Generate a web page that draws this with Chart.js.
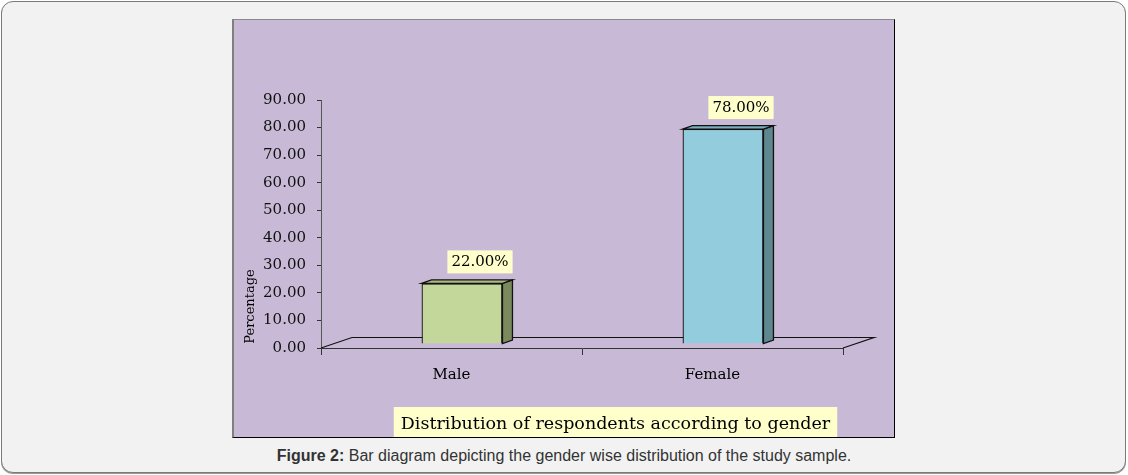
<!DOCTYPE html>
<html>
<head>
<meta charset="utf-8">
<script src="https://cdn.jsdelivr.net/npm/chart.js@4/dist/chart.umd.min.js"></script>
<style>
  html, body { margin: 0; padding: 0; background: #fff; }
  #frame {
    position: absolute; left: 1px; top: 1px; width: 1123px; height: 470px;
    border: 1px solid #7a7a7a; border-radius: 12px; background: #f2f2f2;
    box-shadow: 0 1px 0 #9a9a9a;
  }
  #panel {
    position: absolute; left: 232px; top: 19px; width: 660px; height: 417px;
    background: #c8bad6;
    border-left: 2px solid #7f7f7f; border-top: 1px solid #8a8a8a;
    border-right: 1px solid #000; border-bottom: 1px solid #000;
  }
  #caption {
    position: absolute; left: 0; width: 1128px; top: 447px; text-align: center;
    font-family: "Liberation Sans", Arial, sans-serif; font-size: 16px; color: #333;
  }
</style>
</head>
<body>
<div id="frame"></div>
<div id="panel"><canvas id="chart" width="660" height="417"></canvas></div>
<div id="caption"><b>Figure 2:</b> Bar diagram depicting the gender wise distribution of the study sample.</div>
<script>
// data
const categories = ["Male", "Female"];
const percentages = [22, 78];
const yMax = 90;
const yStep = 10;
const axisTitle = "Percentage";
const chartTitle = "Distribution of respondents according to gender";

// colours for front / side / top faces
const frontColors = ["#c4d79b", "#93cddd"];
const sideColors = ["#7b8a5c", "#5e8790"];
const topColors = ["#a9bb82", "#79aebc"];

const serif = "'DejaVu Serif', serif";
const DX = 10.5, DY = -4;      // bar shift into the floor
const DEPTH = 10, RISE = 3.5;  // bar 3d depth

const threeD = {
  id: "threeD",
  beforeDatasetsDraw(chart) {
    const { ctx, chartArea: a } = chart;
    // floor back edge
    ctx.save();
    ctx.strokeStyle = "#111";
    ctx.lineWidth = 1.2;
    ctx.beginPath();
    ctx.moveTo(a.left, a.bottom);
    ctx.lineTo(a.left + 31, a.bottom - 10.5);
    ctx.lineTo(a.right + 31, a.bottom - 10.5);
    ctx.lineTo(a.right, a.bottom);
    ctx.stroke();
    ctx.restore();
    ctx.save();
    ctx.translate(DX, DY);
  },
  afterDatasetsDraw(chart) {
    const { ctx } = chart;
    const meta = chart.getDatasetMeta(0);
    meta.data.forEach((bar, i) => {
      const l = bar.x - bar.width / 2, r = bar.x + bar.width / 2;
      const t = bar.y, b = bar.base;
      ctx.lineWidth = 1.3;
      ctx.strokeStyle = "#111";
      // side
      ctx.fillStyle = sideColors[i];
      ctx.beginPath();
      ctx.moveTo(r, t); ctx.lineTo(r + DEPTH, t - RISE);
      ctx.lineTo(r + DEPTH, b - RISE); ctx.lineTo(r, b);
      ctx.closePath(); ctx.fill(); ctx.stroke();
      // top
      ctx.fillStyle = topColors[i];
      ctx.beginPath();
      ctx.moveTo(l, t); ctx.lineTo(l + DEPTH, t - RISE);
      ctx.lineTo(r + DEPTH, t - RISE); ctx.lineTo(r, t);
      ctx.closePath(); ctx.fill(); ctx.stroke();
      // value label
      const txt = percentages[i].toFixed(2) + "%";
      ctx.font = "15px " + serif;
      const w = ctx.measureText(txt).width + 8;
      const cx = bar.x + 18, by = t - 10;
      ctx.fillStyle = "#ffffcc";
      ctx.fillRect(cx - w / 2, by - 23, w, 23);
      ctx.fillStyle = "#000";
      ctx.textAlign = "center";
      ctx.textBaseline = "middle";
      ctx.fillText(txt, cx, by - 11);
    });
    ctx.restore();
  },
  afterDraw(chart) {
    const { ctx } = chart;
    ctx.save();
    // y axis title
    ctx.font = "13px " + serif;
    ctx.fillStyle = "#000";
    ctx.textAlign = "center";
    ctx.textBaseline = "middle";
    ctx.translate(17, 286.5);
    ctx.rotate(-Math.PI / 2);
    ctx.fillText(axisTitle, 0, 0);
    ctx.restore();
    // chart title box
    ctx.save();
    ctx.font = "17.5px " + serif;
    const w = ctx.measureText(chartTitle).width;
    const cx = 381.5;
    ctx.fillStyle = "#ffffcc";
    ctx.fillRect(cx - w / 2 - 7, 387, w + 14, 30);
    ctx.fillStyle = "#000";
    ctx.textAlign = "center";
    ctx.textBaseline = "alphabetic";
    ctx.fillText(chartTitle, cx, 409);
    ctx.restore();
  }
};

new Chart(document.getElementById("chart"), {
  type: "bar",
  data: {
    labels: categories,
    datasets: [{
      data: percentages,
      backgroundColor: frontColors,
      borderColor: "#111",
      borderWidth: 1.3,
      barPercentage: 0.31,
      categoryPercentage: 1
    }]
  },
  options: {
    responsive: false,
    devicePixelRatio: 1,
    animation: false,
    layout: { padding: { top: 80, right: 51, left: 0, bottom: 0 } },
    plugins: { legend: { display: false }, tooltip: { enabled: false } },
    scales: {
      x: {
        afterFit: s => { s.height = 89; },
        grid: { offset: true, drawOnChartArea: false, drawTicks: true, tickLength: 7, color: "#333" },
        border: { display: true, color: "#333", width: 1 },
        ticks: { font: { family: serif, size: 15 }, color: "#000", padding: 11 }
      },
      y: {
        min: 0, max: yMax,
        afterFit: s => { s.width = 87; },
        grid: { drawOnChartArea: false, drawTicks: true, tickLength: 4, color: "#333" },
        border: { display: true, color: "#555", width: 1 },
        ticks: {
          stepSize: yStep,
          font: { family: serif, size: 15 }, color: "#111", padding: 11,
          callback: v => v.toFixed(2)
        }
      }
    }
  },
  plugins: [threeD]
});
</script>
</body>
</html>
